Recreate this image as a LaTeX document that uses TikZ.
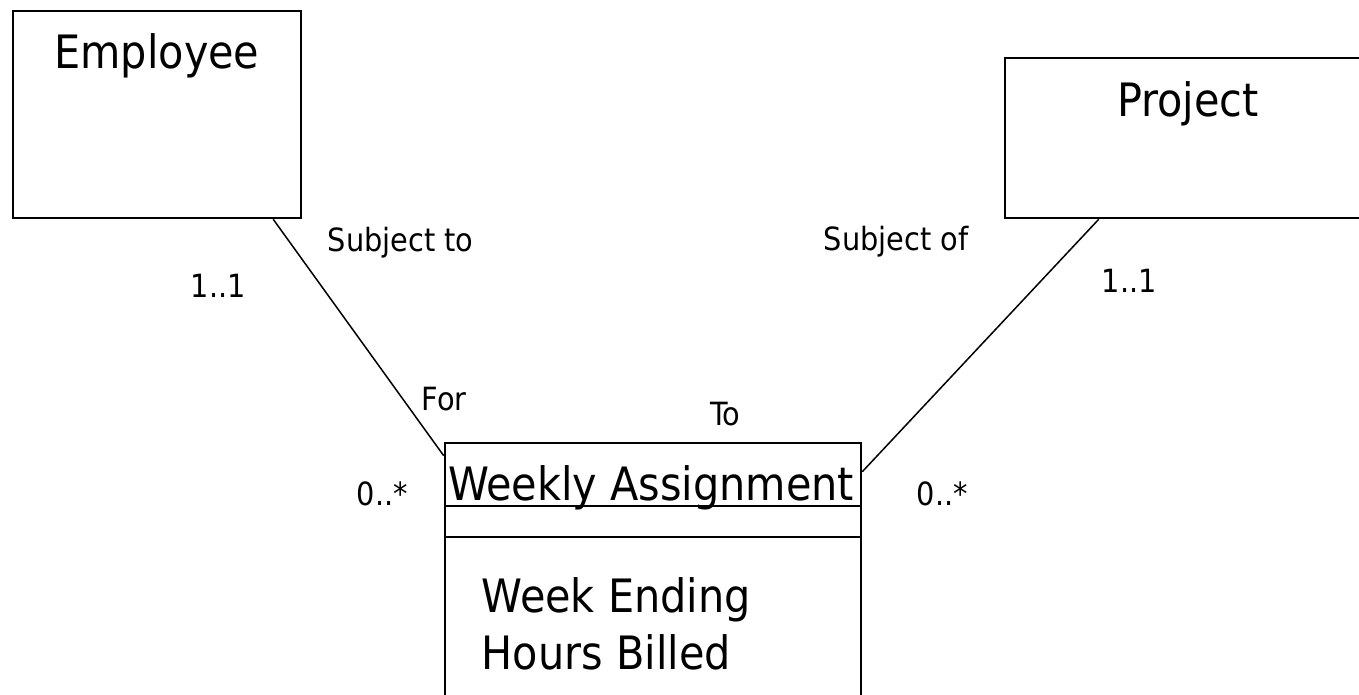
\documentclass[tikz,border=0pt]{standalone}
\usepackage{fontspec}
\setmainfont{DejaVu Sans Condensed}
\usepackage{tikz}
\usetikzlibrary{positioning}
\usetikzlibrary{calc}
\tikzset{class box/.style={rectangle,draw,line width=2.6pt,inner sep=0pt},
	class name/.style={font=\fontsize{46}{55}\selectfont,anchor=base,inner sep=0pt},
	attr name/.style={font=\fontsize{46}{55}\selectfont,anchor=base west,inner sep=0pt},
	role name/.style={font=\fontsize{32}{38}\selectfont,anchor=base west,inner sep=0pt},}

\begin{document}
\begin{tikzpicture}[x=1pt, y=-1pt, line width=1.5pt]
		\clip (0,0) rectangle (1359,695);
		\node[class box, minimum width=288pt, minimum height=207pt] (employee) at (157,114.5) {};
		\node[class box, minimum width=365pt, minimum height=160pt] (project) at (1187.5,138) {};
		\node[class box, minimum width=416pt, minimum height=277pt] (wa) at (653,581.5) {};
		\node[class name] (emptitle) at (157,69) {Employee};
		\node[class name] (projtitle) at (1188,117) {Project};
		\node[class name] (watitle) at (651,500) {Weekly Assignment};
		\node[attr name] (weekend) at (481,612) {Week Ending};
		\node[attr name] (hours) at (481,669) {Hours Billed};
	
		\node[role name] (subjto) at (327,251) {Subject to};
		\node[role name] (empmult) at (190,297) {1..1};
		\node[role name] (for) at (421,410) {For};
		\node[role name] (forMult) at (356,505) {0..*};
		\node[role name] (subjof) at (823,250) {Subject of};
		\node[role name] (projmult) at (1101,292) {1..1};
		\node[role name] (to) at (710,425) {To};
		\node[role name] (toMult) at (916,505) {0..*};
	
		\draw[line width=2.4pt] ([yshift=-64pt]wa.north west) -- ([yshift=-64pt]wa.north east);
		\draw[line width=2.4pt] ([yshift=-95pt]wa.north west) -- ([yshift=-95pt]wa.north east);
	
		\path[draw]
		($(employee.south west)!0.9!(employee.south east)$) edge ([yshift=-14pt]wa.north west)
		([xshift=95pt]project.south west) edge ([yshift=-30pt]wa.north east);
	\end{tikzpicture}
\end{document}
